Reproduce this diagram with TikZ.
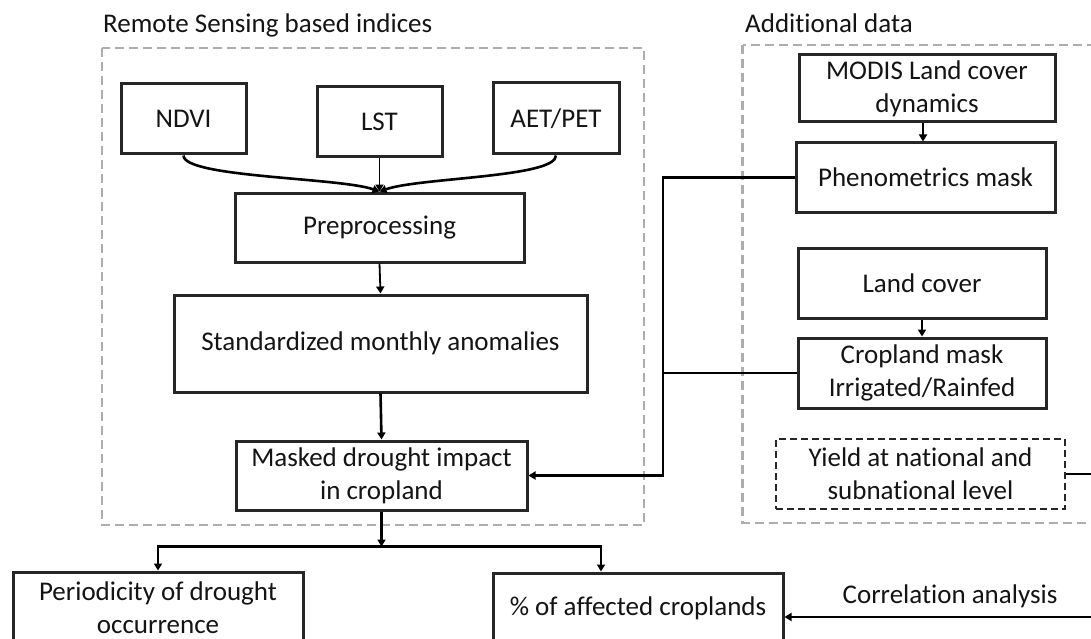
\documentclass[tikz,border=0pt]{standalone}
\usepackage{fontspec}
\setmainfont{Carlito}[Ligatures={NoCommon}]
\usetikzlibrary{arrows.meta,calc}
\definecolor{boxline}{HTML}{262626}
\definecolor{grpline}{HTML}{ADADAD}
\definecolor{txt}{HTML}{141414}
\tikzset{
  box/.style={draw=boxline, line width=3pt, fill=white, align=center, inner sep=0pt,
    text=txt, font=\fontsize{27}{33}\selectfont},
  dbox/.style={box, line width=2.8pt, dash pattern=on 7pt off 4pt},
  grp/.style={draw=grpline, line width=2.8pt, dash pattern=on 9pt off 5pt},
  lbl/.style={text=txt, inner sep=0pt, font=\fontsize{27}{33}\selectfont},
  conn/.style={draw=black, line width=2.6pt, -{Triangle[width=8pt,length=7pt]}},
  thin/.style={draw=black, line width=1.8pt, -{Triangle[width=8pt,length=7pt]}},
  plain/.style={draw=black, line width=2.6pt},
}
\begin{document}
\begin{tikzpicture}[x=1pt,y=-1pt]
\useasboundingbox (0,0) rectangle (1091,639);
\clip (0,0) rectangle (1091,639);
\fill[white] (0,0) rectangle (1091,639);
% group frames
\draw[grp] (102,48) rectangle (644,525);
\draw[grp] (742.5,45) rectangle (1120,523);
\node[lbl, anchor=base west] (lblrs) at (103,33) {Remote Sensing based indices};
\node[lbl, anchor=base west] (lblad) at (745,33) {Additional data};
% left group
\node[box, minimum width=125pt, minimum height=70pt] (ndvi) at (183.5,119) {NDVI};
\node[box, minimum width=125pt, minimum height=70pt] (lst) at (379.5,122) {LST};
\node[box, minimum width=126pt, minimum height=71pt] (aet) at (556,118.5) {AET/PET};
\node[box, minimum width=289pt, minimum height=69pt] (prep) at (379.5,227.5) {Preprocessing};
\node[box, minimum width=413pt, minimum height=97pt] (std) at (380.5,343.5) {Standardized monthly anomalies};
\node[box, minimum width=291pt, minimum height=69pt] (masked) at (381.5,475.5) {Masked drought impact\\in cropland};
% right group
\node[box, minimum width=256pt, minimum height=67pt] (modis) at (927,88.5) {MODIS Land cover\\dynamics};
\node[box, minimum width=259pt, minimum height=69pt] (pheno) at (925.5,177.5) {Phenometrics mask};
\node[box, minimum width=248pt, minimum height=70pt] (lc) at (922,283) {Land cover};
\node[box, minimum width=248pt, minimum height=70pt] (crop) at (922,373) {Cropland mask\\Irrigated/Rainfed};
\node[dbox, minimum width=289pt, minimum height=70pt] (yield) at (920.5,474) {Yield at national and\\subnational level};
% bottom
\node[box, minimum width=290pt, minimum height=71pt] (period) at (158,607.5) {Periodicity of drought\\occurrence};
\node[box, minimum width=290pt, minimum height=70pt] (pct) at (638,608) {\% of affected croplands};
\node[lbl, anchor=base] (corr) at (950,603) {Correlation analysis};
% coordinates
\coordinate (split) at ($(masked.south)+(0,35)$);
\coordinate (busx) at (663,0);
\coordinate (edge) at (1100,0);
% connectors
\draw[conn] (ndvi.south) .. controls +(0,22) and +(-40,-14) .. (prep.north);
\draw[conn] (aet.south) .. controls +(0,22) and +(40,-14) .. (prep.north);
\draw[thin] (lst.south) -- (prep.north);
\draw[thin] (prep.south) -- (std.north);
\draw[conn] (std.south) -- (masked.north);
\draw[conn] (masked.south) -- (split);
\draw[conn] (split) -| (period.north);
\draw[conn] (split) -| ($(pct.north)+(-37,0)$);
\draw[thin] ($(modis.south)+(-4,0)$) -- ($(pheno.north)+(-2.5,0)$);
\draw[thin] (lc.south) -- (crop.north);
\draw[conn] (pheno.west) -| (busx |- masked.east) -- (masked.east);
\draw[plain] (crop.west) -- (crop.west -| busx);
\draw[conn] (yield.east) -- (yield.east -| edge) -- ($(pct.east -| edge)+(0,9)$) -- ($(pct.east)+(0,9)$);
\end{tikzpicture}
\end{document}
